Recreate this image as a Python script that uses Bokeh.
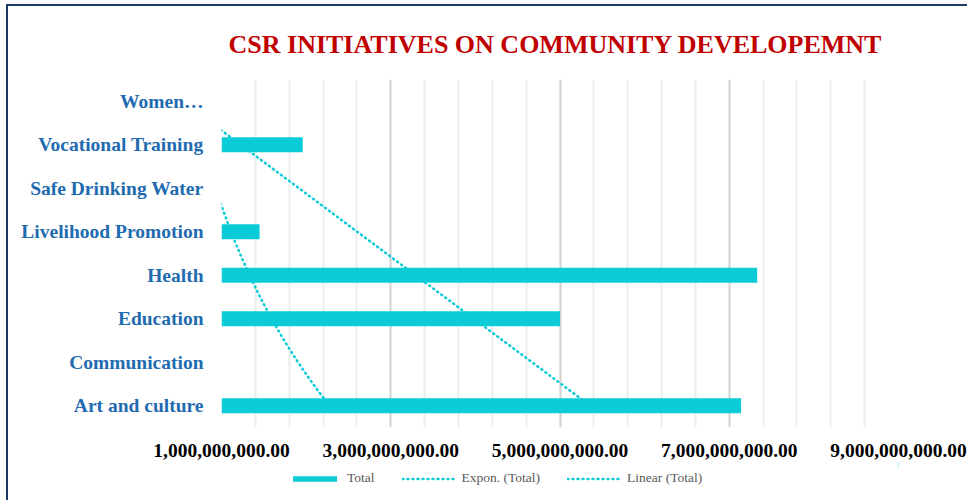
import numpy as np
from bokeh.plotting import figure
from bokeh.layouts import column
from bokeh.models import (FixedTicker, NumeralTickFormatter, Legend, LegendItem,
                          Range1d)
from bokeh.embed import file_html
from bokeh.resources import INLINE

# ---------------- data ----------------
categories = ["Art and culture", "Communication", "Education", "Health",
              "Livelihood Promotion", "Safe Drinking Water",
              "Vocational Training", "Women\u2026"]
totals = [7.14e9, 8.0e7, 5.0e9, 7.33e9, 1.45e9, 1.85e8, 1.96e9, 4.4e8]
x_ticks = [1e9, 3e9, 5e9, 7e9, 9e9]
x_min, x_max = 1e9, 9e9
minor_step = 4e8

# ---------------- derived ----------------
idx = np.arange(1, len(categories) + 1)
vals = np.array(totals)
right = np.maximum(vals, x_min)
xs = np.linspace(1, len(categories), 300)
lin_fit = np.polyval(np.polyfit(idx, vals, 1), xs)
exp_fit = np.exp(np.polyval(np.polyfit(idx, np.log(vals), 1), xs))

CYAN = "#0BCCD6"
SERIF = "Liberation Serif"
NAVY = "2px solid #1F3864"


def draw_series(fig):
    b = fig.hbar(y=idx, left=x_min, right=right, height=0.34, fill_color=CYAN,
                 line_color=None)
    e = fig.line(exp_fit, xs, line_color=CYAN, line_width=2.5, line_dash="1 4",
                 line_cap="round")
    l = fig.line(lin_fit, xs, line_color=CYAN, line_width=2.5, line_dash="1 4",
                 line_cap="round")
    return b, e, l


p = figure(width=961, height=458, output_backend="svg", toolbar_location=None,
           x_range=Range1d(x_min, x_max), y_range=Range1d(0.5, len(categories) + 0.5),
           min_border_left=213, min_border_right=71, min_border_top=72,
           min_border_bottom=37, margin=(4, 0, 0, 6))
p.styles = {"border-top": NAVY, "border-left": NAVY}
p.outline_line_color = None
p.background_fill_color = "white"
p.border_fill_color = "white"

p.title.text = "CSR INITIATIVES ON COMMUNITY DEVELOPEMNT"
p.title.align = "left"
p.title.offset = 7
p.title.text_font = SERIF
p.title.text_font_size = "26px"
p.title.text_font_style = "bold"
p.title.text_color = "#C00000"
p.title.standoff = 42

draw_series(p)

# x axis
p.xaxis.ticker = FixedTicker(ticks=x_ticks,
                             minor_ticks=list(np.arange(x_min, x_max + 1, minor_step)))
p.xaxis.formatter = NumeralTickFormatter(format="0,0.00")
p.xaxis.major_label_text_font = SERIF
p.xaxis.major_label_text_font_size = "19.5px"
p.xaxis.major_label_text_font_style = "bold"
p.xaxis.major_label_text_color = "black"
p.xaxis.major_label_standoff = 10
p.xaxis.axis_line_color = None
p.xaxis.major_tick_line_color = None
p.xaxis.minor_tick_line_color = None

p.xgrid.grid_line_color = "#d4d4d4"
p.xgrid.grid_line_width = 2
p.xgrid.minor_grid_line_color = "#ececec"
p.xgrid.minor_grid_line_width = 2
p.ygrid.grid_line_color = None

# y axis
p.yaxis.ticker = FixedTicker(ticks=list(idx))
p.yaxis.major_label_overrides = {int(i): c for i, c in zip(idx, categories)}
p.yaxis.major_label_text_font = SERIF
p.yaxis.major_label_text_font_size = "19.5px"
p.yaxis.major_label_text_font_style = "bold"
p.yaxis.major_label_text_color = "#1F6BB0"
p.yaxis.major_label_standoff = 12
p.yaxis.axis_line_color = None
p.yaxis.major_tick_line_color = None
p.yaxis.minor_tick_line_color = None

# ---------------- legend strip ----------------
lg = figure(width=961, height=38, output_backend="svg", toolbar_location=None,
            x_range=Range1d(0, 1), y_range=Range1d(0, 1),
            x_axis_location=None, y_axis_location=None,
            min_border=0, margin=(0, 0, 0, 6))
lg.styles = {"border-left": NAVY}
lg.outline_line_color = None
lg.grid.visible = False
lb, le, ll = draw_series(lg)   # same series, outside this strip's ranges

legend = Legend(items=[LegendItem(label="Total", renderers=[lb]),
                       LegendItem(label="Expon. (Total)", renderers=[le]),
                       LegendItem(label="Linear (Total)", renderers=[ll])],
                orientation="horizontal", location=(66, 12))
legend.margin = 0
legend.padding = 0
legend.spacing = 27
legend.glyph_width = 55
legend.glyph_height = 7
legend.label_height = 20
legend.label_standoff = 5
legend.label_text_font = SERIF
legend.label_text_font_size = "13.5px"
legend.label_text_color = "#595959"
legend.border_line_color = None
legend.background_fill_alpha = 0
lg.add_layout(legend, "center")

layout = column(p, lg, spacing=0)
open("out.html", "w").write(file_html(layout, INLINE))
